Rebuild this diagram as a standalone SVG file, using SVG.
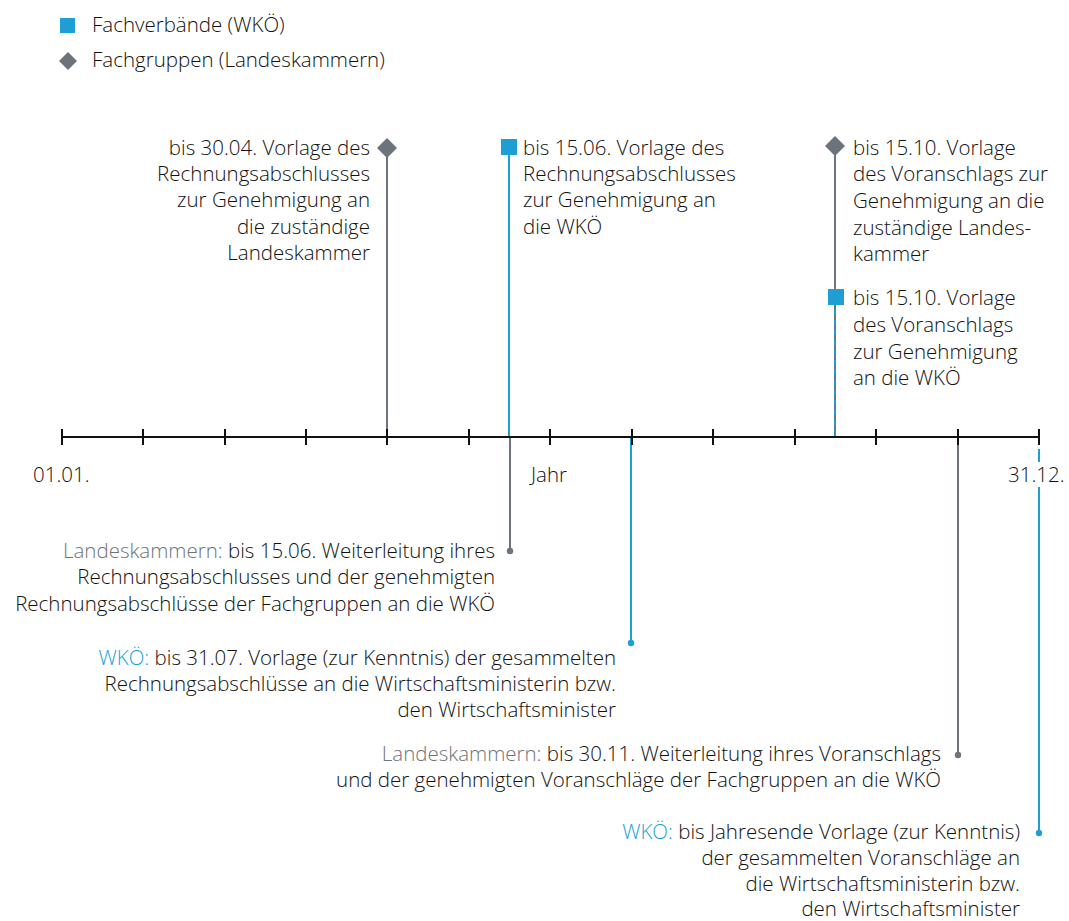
<svg xmlns="http://www.w3.org/2000/svg" width="1069" height="921" viewBox="0 0 1069 921">
<defs>
<style>
text{font-family:"Open Sans","Noto Sans","DejaVu Sans",sans-serif;font-weight:300;font-size:20.5px;fill:#111}
.r{text-anchor:end}
.g{fill:#6d737a}
.b{fill:#1e9fd4}
.lg{stroke:#6d737a;stroke-width:2;fill:none}
.lb{stroke:#1e9fd4;stroke-width:2;fill:none}
.axis{stroke:#111;stroke-width:2;fill:none}
.sq{fill:#1e9fd4}
.dm{fill:#6d737a}
</style>
</defs>
<rect width="1069" height="921" fill="#fff"/>
<g id="legend">
<rect class="sq" x="60" y="18" width="15" height="15"/>
<text x="92" y="32">Fachverbände (WKÖ)</text>
<polygon class="dm" points="68,52 77,61 68,70 59,61"/>
<text x="92" y="67">Fachgruppen (Landeskammern)</text>
</g>
<g id="connectors">
<line class="lg" x1="387" y1="148" x2="387" y2="437"/>
<line class="lb" x1="509" y1="148" x2="509" y2="437"/>
<line class="lg" x1="835" y1="146" x2="835" y2="297"/>
<line class="lb" x1="835" y1="297" x2="835" y2="437"/>
<line class="lg" x1="835" y1="305" x2="835" y2="437" stroke-dasharray="5 5"/>
<line class="lg" x1="510" y1="437" x2="510" y2="551"/>
<circle cx="510" cy="551" r="3.2" class="dm"/>
<line class="lb" x1="631" y1="437" x2="631" y2="643"/>
<circle cx="631" cy="643" r="3.2" class="sq"/>
<line class="lg" x1="958" y1="437" x2="958" y2="755"/>
<circle cx="958" cy="755" r="3.2" class="dm"/>
<line class="lb" x1="1039" y1="449" x2="1039" y2="833"/>
<circle cx="1039" cy="833" r="3.2" class="sq"/>
</g>
<g id="axis">
<line class="axis" x1="62" y1="437" x2="1039" y2="437"/>
<path class="axis" d="M62 429V445M143 429V445M225 429V445M306 429V445M387 429V445M469 429V445M550 429V445M632 429V445M713 429V445M795 429V445M876 429V445M958 429V445M1039 429V445"/>
<text x="33" y="482">01.01.</text>
<text x="531" y="482">Jahr</text>
<rect x="1006" y="462" width="63" height="25" fill="#fff"/>
<text x="1008" y="482">31.12.</text>
</g>
<g id="node-3004">
<polygon class="dm" points="387,138 397,148 387,158 377,148"/>
<text class="r" x="370" y="155">bis 30.04. Vorlage des</text>
<text class="r" x="370" y="181">Rechnungsabschlusses</text>
<text class="r" x="370" y="207">zur Genehmigung an</text>
<text class="r" x="370" y="234">die zuständige</text>
<text class="r" x="370" y="260">Landeskammer</text>
</g>
<g id="node-1506">
<rect class="sq" x="501" y="139" width="16" height="16"/>
<text x="523" y="155">bis 15.06. Vorlage des</text>
<text x="523" y="181">Rechnungsabschlusses</text>
<text x="523" y="207">zur Genehmigung an</text>
<text x="523" y="234">die WKÖ</text>
</g>
<g id="node-1510-lk">
<polygon class="dm" points="835,136 845,146 835,156 825,146"/>
<text x="853" y="155">bis 15.10. Vorlage</text>
<text x="853" y="181">des Voranschlags zur</text>
<text x="853" y="208">Genehmigung an die</text>
<text x="853" y="235">zuständige Landes-</text>
<text x="853" y="261">kammer</text>
</g>
<g id="node-1510-wko">
<rect class="sq" x="828" y="289" width="16" height="16"/>
<text x="853" y="305">bis 15.10. Vorlage</text>
<text x="853" y="332">des Voranschlags</text>
<text x="853" y="359">zur Genehmigung</text>
<text x="853" y="385">an die WKÖ</text>
</g>
<g id="node-lk-1506">
<text class="r" x="495" y="558"><tspan class="g">Landeskammern:</tspan> bis 15.06. Weiterleitung ihres</text>
<text class="r" x="495" y="584">Rechnungsabschlusses und der genehmigten</text>
<text class="r" x="495" y="611">Rechnungsabschlüsse der Fachgruppen an die WKÖ</text>
</g>
<g id="node-wko-3107">
<text class="r" x="616" y="665"><tspan class="b">WKÖ:</tspan> bis 31.07. Vorlage (zur Kenntnis) der gesammelten</text>
<text class="r" x="616" y="691">Rechnungsabschlüsse an die Wirtschaftsministerin bzw.</text>
<text class="r" x="616" y="717">den Wirtschaftsminister</text>
</g>
<g id="node-lk-3011">
<text class="r" x="941" y="761"><tspan class="g">Landeskammern:</tspan> bis 30.11. Weiterleitung ihres Voranschlags</text>
<text class="r" x="941" y="787">und der genehmigten Voranschläge der Fachgruppen an die WKÖ</text>
</g>
<g id="node-wko-jahresende">
<text class="r" x="1020" y="839"><tspan class="b">WKÖ:</tspan> bis Jahresende Vorlage (zur Kenntnis)</text>
<text class="r" x="1020" y="865">der gesammelten Voranschläge an</text>
<text class="r" x="1020" y="891">die Wirtschaftsministerin bzw.</text>
<text class="r" x="1020" y="916">den Wirtschaftsminister</text>
</g>
</svg>
